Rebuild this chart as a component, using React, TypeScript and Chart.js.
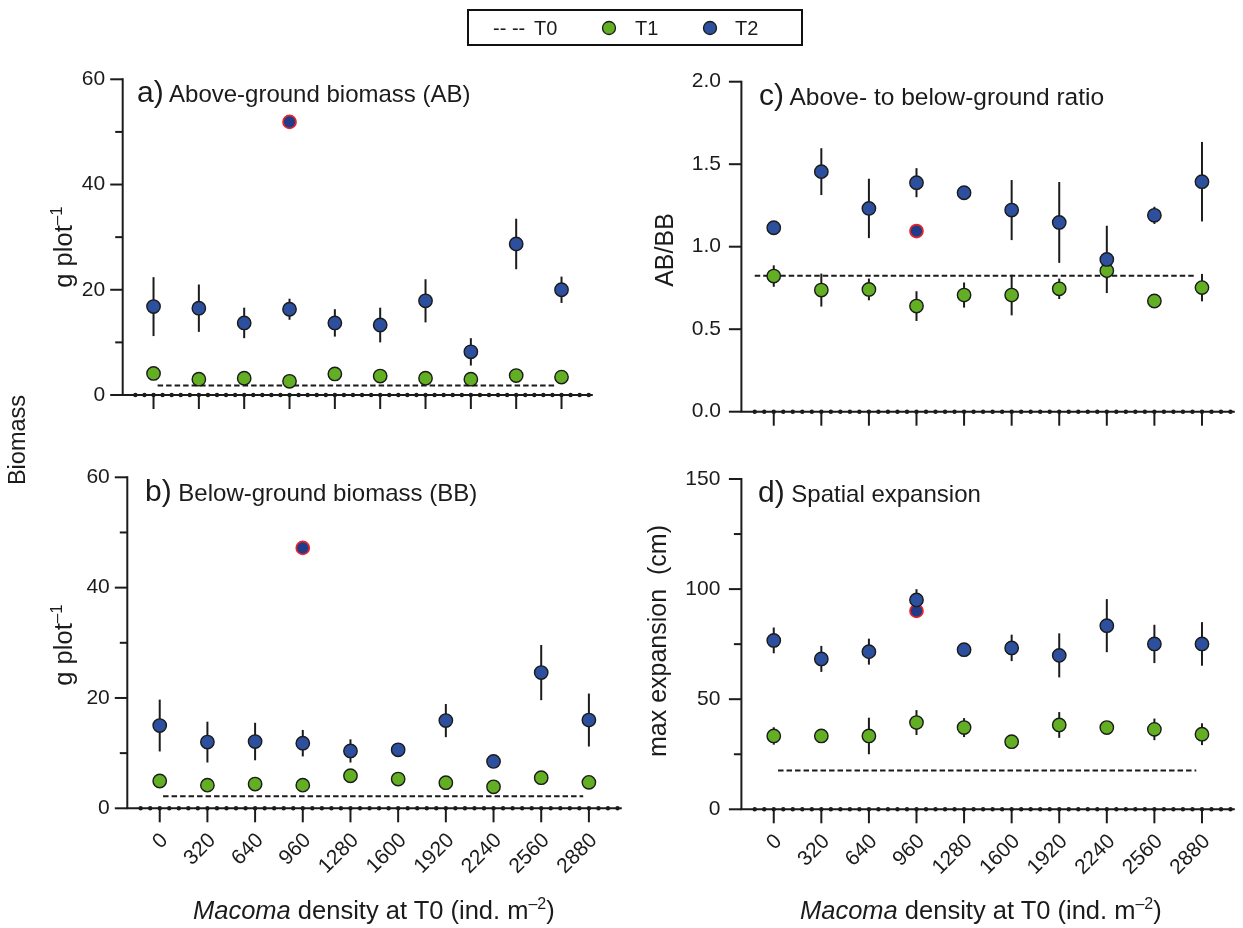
import React, { useEffect, useRef } from "react";
import { Chart, registerables } from "chart.js";
Chart.register(...registerables);

const FONT = "'Liberation Sans', Arial, Helvetica, sans-serif";
const INK = "#1b1b1b";
const BLUE = "#2C4F9E";
const GREEN = "#63AF23";
const OUTLIER_FILL = "#1F3B8A";
const OUTLIER_EDGE = "#E62429";

// categories: Macoma density at T0 (ind. m-2)
const densityLabels = ["0", "320", "640", "960", "1280", "1600", "1920", "2240", "2560", "2880"];
const outlierDensity = "960";

// a) Above-ground biomass (AB), g plot-1
const abT0 = 1.8;
const abT0Span = [0.09, 8.88];
const abT1 = [4.1, 3.0, 3.2, 2.6, 4.0, 3.6, 3.2, 3.0, 3.7, 3.4];
const abT1Err = [0.9, 0.7, 0.8, 0.6, 0.9, 0.8, 0.7, 0.8, 0.8, 0.7];
const abT2 = [16.8, 16.5, 13.7, 16.3, 13.7, 13.3, 17.9, 8.2, 28.7, 20.0];
const abT2Err = [5.6, 4.5, 2.9, 2.0, 2.6, 3.3, 4.1, 2.6, 4.8, 2.5];
const abOutlier = 51.9;
const abTicks = [0, 20, 40, 60];

// b) Below-ground biomass (BB), g plot-1
const bbT0 = 2.2;
const bbT0Span = [0.07, 8.88];
const bbT1 = [4.95, 4.2, 4.4, 4.2, 5.9, 5.3, 4.65, 3.9, 5.55, 4.7];
const bbT1Err = [0.8, 0.7, 0.8, 0.6, 0.9, 0.8, 0.7, 0.6, 0.9, 0.8];
const bbT2 = [15.0, 12.0, 12.1, 11.8, 10.4, 10.6, 15.9, 8.5, 24.6, 16.0];
const bbT2Err = [4.7, 3.7, 3.4, 2.4, 2.1, 1.0, 3.0, 1.0, 5.0, 4.8];
const bbOutlier = 47.2;
const bbTicks = [0, 20, 40, 60];

// c) Above- to below-ground ratio (AB/BB)
const ratioT0 = 0.824;
const ratioT0Span = [-0.4, 8.87];
const ratioT1 = [0.822, 0.737, 0.741, 0.64, 0.707, 0.707, 0.745, 0.855, 0.671, 0.752];
const ratioT1Err = [0.065, 0.1, 0.066, 0.09, 0.076, 0.123, 0.062, 0.05, 0.03, 0.083];
const ratioT2 = [1.115, 1.455, 1.232, 1.388, 1.327, 1.222, 1.147, 0.923, 1.19, 1.394];
const ratioT2Err = [0.03, 0.142, 0.18, 0.088, 0.03, 0.182, 0.245, 0.204, 0.052, 0.241];
const ratioOutlier = 1.095;
const ratioTicks = [0, 0.5, 1.0, 1.5, 2.0];

// d) Spatial expansion, max expansion (cm)
const expT0 = 17.6;
const expT0Span = [0.09, 8.88];
const expT1 = [33.3, 33.3, 33.3, 39.4, 37.1, 30.7, 38.3, 37.1, 36.3, 34.1];
const expT1Err = [3.95, 2.0, 8.3, 5.65, 4.3, 2.0, 5.85, 2.5, 4.9, 4.95];
const expT2 = [76.7, 68.3, 71.6, 95.1, 72.5, 73.3, 69.9, 83.4, 75.1, 75.1];
const expT2Err = [5.85, 5.9, 5.9, 4.85, 2.0, 6.0, 10.0, 12.05, 8.7, 9.9];
const expOutlier = 90.1;
const expTicks = [0, 50, 100, 150];

const X_MIN = -0.68;
const X_MAX = 9.69;

type Spec = {
  L: number; R: number; T: number; B: number;
  yTicks: number[]; minorStep: number; decimals: number; labelGap: number;
  showX: boolean;
  t0: number; t0Span: number[];
  t1: number[]; t1Err: number[];
  t2: number[]; t2Err: number[];
  outlier: number;
};

const panels: Spec[] = [
  { L: 122.7, R: 597, T: 79.3, B: 395, yTicks: abTicks, minorStep: 10, decimals: 0, labelGap: 17.5, showX: false,
    t0: abT0, t0Span: abT0Span, t1: abT1, t1Err: abT1Err, t2: abT2, t2Err: abT2Err, outlier: abOutlier },
  { L: 127.3, R: 625.1, T: 477.3, B: 808.3, yTicks: bbTicks, minorStep: 10, decimals: 0, labelGap: 17.5, showX: true,
    t0: bbT0, t0Span: bbT0Span, t1: bbT1, t1Err: bbT1Err, t2: bbT2, t2Err: bbT2Err, outlier: bbOutlier },
  { L: 741.4, R: 1239.2, T: 81.7, B: 411.7, yTicks: ratioTicks, minorStep: 0.5, decimals: 1, labelGap: 20.5, showX: false,
    t0: ratioT0, t0Span: ratioT0Span, t1: ratioT1, t1Err: ratioT1Err, t2: ratioT2, t2Err: ratioT2Err, outlier: ratioOutlier },
  { L: 741.4, R: 1239.2, T: 479, B: 809.3, yTicks: expTicks, minorStep: 25, decimals: 0, labelGap: 21, showX: true,
    t0: expT0, t0Span: expT0Span, t1: expT1, t1Err: expT1Err, t2: expT2, t2Err: expT2Err, outlier: expOutlier },
];

function geom(s: Spec) {
  const left = Math.floor(s.L) - 70;
  const top = Math.floor(s.T) - 16;
  const right = Math.min(1243, Math.ceil(s.R) + 4);
  const bottom = Math.ceil(s.B) + (s.showX ? 90 : 22);
  return { left, top, width: right - left, height: bottom - top };
}

function Panel({ spec }: { spec: Spec }) {
  const ref = useRef<HTMLCanvasElement>(null);
  const g = geom(spec);
  useEffect(() => {
    const s = spec;
    const yW = s.L - g.left;
    const padTop = s.T - g.top;
    const padRight = g.left + g.width - s.R;
    const xH = g.top + g.height - s.B;
    const yMin = s.yTicks[0];
    const yMax = s.yTicks[s.yTicks.length - 1];
    const majorStep = s.yTicks[1] - s.yTicks[0];
    const outIdx = densityLabels.indexOf(outlierDensity);

    const decor = {
      id: "decor",
      beforeDatasetsDraw(chart: any) {
        const { ctx, scales } = chart;
        const xs = scales.x, ys = scales.y;
        const xL = chart.chartArea.left, xR = chart.chartArea.right;
        const y0 = ys.getPixelForValue(yMin);
        const yT = ys.getPixelForValue(yMax);
        ctx.save();
        ctx.strokeStyle = INK;
        ctx.fillStyle = INK;
        ctx.lineWidth = 2;
        ctx.beginPath();
        ctx.moveTo(xL, yT - 1);
        ctx.lineTo(xL, y0);
        ctx.stroke();
        ctx.beginPath();
        ctx.moveTo(xL - 1, y0);
        ctx.lineTo(xR, y0);
        ctx.stroke();
        // y ticks (major + minor)
        const nMinor = Math.round((yMax - yMin) / s.minorStep);
        for (let k = 0; k <= nMinor; k++) {
          const v = yMin + k * s.minorStep;
          const r = (v - yMin) / majorStep;
          const major = Math.abs(r - Math.round(r)) < 1e-6;
          const len = major ? 12.5 : 7.5;
          const py = ys.getPixelForValue(v);
          ctx.beginPath();
          ctx.moveTo(xL - len, py);
          ctx.lineTo(xL, py);
          ctx.stroke();
        }
        // x major ticks
        densityLabels.forEach((_, i) => {
          const px = xs.getPixelForValue(i);
          ctx.beginPath();
          ctx.moveTo(px, y0);
          ctx.lineTo(px, y0 + 14);
          ctx.stroke();
        });
        // dotted minor marks along the x axis
        for (let k = -2; k <= 48; k++) {
          const px = xs.getPixelForValue(k * 0.2);
          ctx.beginPath();
          ctx.arc(px, y0, 2.2, 0, Math.PI * 2);
          ctx.fill();
        }
        // error bars
        ctx.lineWidth = 2;
        const bars = (vals: number[], errs: number[]) => {
          vals.forEach((v, i) => {
            const px = xs.getPixelForValue(i);
            ctx.beginPath();
            ctx.moveTo(px, ys.getPixelForValue(v - errs[i]));
            ctx.lineTo(px, ys.getPixelForValue(v + errs[i]));
            ctx.stroke();
          });
        };
        bars(s.t1, s.t1Err);
        bars(s.t2, s.t2Err);
        ctx.restore();
      },
    };

    const chart = new Chart(ref.current as HTMLCanvasElement, {
      type: "scatter",
      data: {
        datasets: [
          {
            label: "T0",
            data: s.t0Span.map((x) => ({ x, y: s.t0 })),
            showLine: true,
            borderColor: INK,
            borderWidth: 2,
            borderDash: [5.5, 3],
            pointRadius: 0,
            order: 4,
          } as any,
          {
            label: "outlier",
            data: [{ x: outIdx, y: s.outlier }],
            backgroundColor: OUTLIER_FILL,
            borderColor: OUTLIER_EDGE,
            borderWidth: 1.7,
            pointRadius: 6.5,
            order: 3,
          },
          {
            label: "T1",
            data: s.t1.map((y, i) => ({ x: i, y })),
            backgroundColor: GREEN,
            borderColor: INK,
            borderWidth: 1.4,
            pointRadius: 6.7,
            order: 2,
          },
          {
            label: "T2",
            data: s.t2.map((y, i) => ({ x: i, y })),
            backgroundColor: BLUE,
            borderColor: INK,
            borderWidth: 1.4,
            pointRadius: 6.7,
            order: 1,
          },
        ],
      },
      options: {
        responsive: false,
        animation: false,
        devicePixelRatio: 1,
        events: [],
        clip: false as any,
        layout: { padding: { top: padTop, right: padRight, left: 0, bottom: 0 } },
        plugins: { legend: { display: false }, tooltip: { enabled: false }, title: { display: false } },
        scales: {
          x: {
            type: "linear",
            min: X_MIN,
            max: X_MAX,
            grid: { display: false, drawTicks: false },
            border: { display: false },
            afterBuildTicks: (sc: any) => {
              sc.ticks = densityLabels.map((_, i) => ({ value: i }));
            },
            afterFit: (sc: any) => {
              sc.height = xH;
              sc.paddingLeft = 0;
              sc.paddingRight = 0;
              sc.paddingTop = 0;
              sc.paddingBottom = 0;
            },
            ticks: {
              display: s.showX,
              autoSkip: false,
              minRotation: 45,
              maxRotation: 45,
              padding: 20,
              labelOffset: 5,
              color: INK,
              font: { family: FONT, size: 21 },
              callback: (v: any) => densityLabels[Math.round(Number(v))] ?? "",
            },
          },
          y: {
            type: "linear",
            min: yMin,
            max: yMax,
            grid: { display: false, drawTicks: false },
            border: { display: false },
            afterBuildTicks: (sc: any) => {
              sc.ticks = s.yTicks.map((v) => ({ value: v }));
            },
            afterFit: (sc: any) => {
              sc.width = yW;
              sc.paddingLeft = 0;
              sc.paddingRight = 0;
              sc.paddingTop = 0;
              sc.paddingBottom = 0;
            },
            ticks: {
              padding: s.labelGap,
              color: INK,
              font: { family: FONT, size: 21 },
              callback: (v: any) => Number(v).toFixed(s.decimals),
            },
          },
        },
      } as any,
      plugins: [decor],
    });
    return () => chart.destroy();
  }, []);
  return (
    <canvas
      ref={ref}
      width={g.width}
      height={g.height}
      style={{ position: "absolute", left: g.left, top: g.top, width: g.width, height: g.height, display: "block" }}
    />
  );
}

function XTitle({ x }: { x: number }) {
  return (
    <text x={x} y={918.5} fontSize={25.5} xmlSpace="preserve">
      <tspan fontStyle="italic">Macoma</tspan> density at T0 (ind. m<tspan fontSize={16} dy={-10}>–2</tspan>
      <tspan dy={10}>)</tspan>
    </text>
  );
}

function GPlot({ cy }: { cy: number }) {
  return (
    <text transform={`translate(72,${cy}) rotate(-90)`} textAnchor="middle" fontSize={25.5} xmlSpace="preserve">
      g plot<tspan fontSize={17} dy={-10}>–1</tspan>
    </text>
  );
}

export default function App() {
  return (
    <div style={{ position: "fixed", left: 0, top: 0, width: 1243, height: 928, background: "#fff", overflow: "hidden" }}>
      {panels.map((p, i) => (
        <Panel key={i} spec={p} />
      ))}
      <svg
        width={1243}
        height={928}
        style={{ position: "absolute", left: 0, top: 0, pointerEvents: "none", whiteSpace: "pre" }}
        fontFamily={FONT}
        fill={INK}
      >
        {/* legend */}
        <rect x={468} y={10} width={334} height={35} fill="none" stroke="#111" strokeWidth={2} />
        <text x={493} y={35} fontSize={20} xmlSpace="preserve">-- --</text>
        <text x={534} y={35} fontSize={20}>T0</text>
        <circle cx={609} cy={28} r={6.5} fill={GREEN} stroke={INK} strokeWidth={1.3} />
        <text x={635} y={35} fontSize={20}>T1</text>
        <circle cx={710} cy={28} r={6.5} fill={BLUE} stroke={INK} strokeWidth={1.3} />
        <text x={735} y={35} fontSize={20}>T2</text>

        {/* panel titles */}
        <text x={137} y={101.5} fontSize={24} xmlSpace="preserve">
          <tspan fontSize={30}>a)</tspan> Above-ground biomass (AB)
        </text>
        <text x={145} y={501} fontSize={24} xmlSpace="preserve">
          <tspan fontSize={30}>b)</tspan> Below-ground biomass (BB)
        </text>
        <text x={759} y={105} fontSize={24.5} xmlSpace="preserve">
          <tspan fontSize={30}>c)</tspan> Above- to below-ground ratio
        </text>
        <text x={758} y={502} fontSize={24} xmlSpace="preserve">
          <tspan fontSize={30}>d)</tspan> Spatial expansion
        </text>

        {/* y axis titles */}
        <text transform="translate(25,440) rotate(-90)" textAnchor="middle" fontSize={23.5}>Biomass</text>
        <GPlot cy={247} />
        <GPlot cy={645} />
        <text transform="translate(673,250) rotate(-90)" textAnchor="middle" fontSize={25}>AB/BB</text>
        <text transform="translate(666,641) rotate(-90)" textAnchor="middle" fontSize={25} xmlSpace="preserve">
          max expansion{"  "}(cm)
        </text>

        {/* x axis titles */}
        <XTitle x={193} />
        <XTitle x={800} />
      </svg>
    </div>
  );
}
